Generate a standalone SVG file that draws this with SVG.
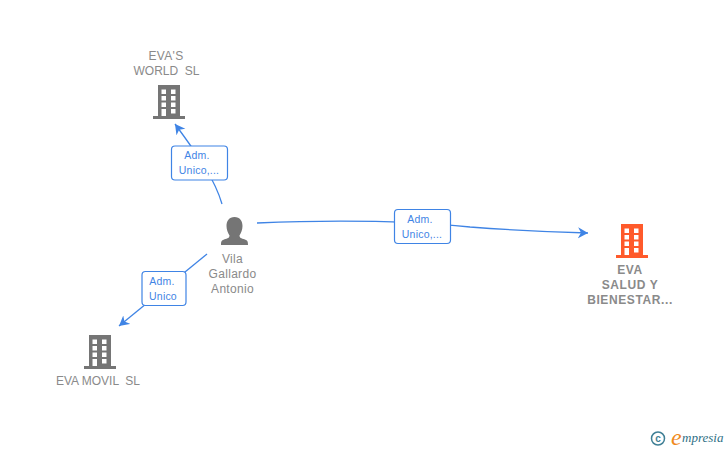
<svg xmlns="http://www.w3.org/2000/svg" width="728" height="450" viewBox="0 0 728 450">
<style>
text{font-family:"Liberation Sans",Arial,sans-serif;white-space:pre}
.n{font-size:12px;fill:#8a8a8a;text-anchor:middle;letter-spacing:.3px}
.t{letter-spacing:0}
.b{font-weight:bold;letter-spacing:.6px}
.l{font-size:10.500px;fill:#3f84e5;text-anchor:middle;letter-spacing:.2px}
.c{fill:none;stroke:#3f84e5;stroke-width:1.300}
.box{fill:#fff;stroke:#3f84e5;stroke-width:1.200}
</style>
<defs>
<marker id="a" markerUnits="userSpaceOnUse" markerWidth="14" markerHeight="14" refX="10" refY="6" orient="auto"><path d="M0 0.500L10 6L0 11.500L3 6Z" fill="#3f84e5"/></marker>
<symbol id="bld" viewBox="0 0 32 34" width="32" height="34" overflow="visible">
<path fill="currentColor" fill-rule="evenodd" d="M5 0H27V31H32V34H0V31H5ZM8.500 4.500V9H13V4.500ZM18 4.500V9H22.500V4.500ZM8.500 11V15.500H13V11ZM18 11V15.500H22.500V11ZM8.500 17.500V22H13V17.500ZM18 17.500V22H22.500V17.500ZM8.500 24V31H13V24ZM18 24V28.500H22.500V24Z"/>
</symbol>
</defs>
<rect width="728" height="450" fill="#fff"/>
<g id="connectors">
<path class="c" d="M222 204C215 180 200 158 175 124" marker-end="url(#a)"/>
<path class="c" d="M207 254L119 326" marker-end="url(#a)"/>
<path class="c" d="M257 223C330 220 400 220 470 227C510 230 550 232 588 233" marker-end="url(#a)"/>
</g>
<g id="label-1"><rect class="box" x="171.500" y="146" width="56" height="34" rx="3.500"/><text class="l" x="197" y="159">Adm.</text><text class="l" x="199" y="174">Unico,...</text></g>
<g id="label-2"><rect class="box" x="142" y="271.500" width="44" height="34" rx="3.500"/><text class="l" x="162" y="285">Adm.</text><text class="l" x="163" y="300">Unico</text></g>
<g id="label-3"><rect class="box" x="394.500" y="209.500" width="56" height="34" rx="3.500"/><text class="l" x="420" y="223">Adm.</text><text class="l" x="422" y="238">Unico,...</text></g>
<g id="node-worlds"><text class="n" x="166" y="60">EVA'S</text><text class="n t" x="166.500" y="75">WORLD  SL</text><use href="#bld" x="153" y="85" color="#757575"/></g>
<g id="node-movil"><use href="#bld" x="84" y="335" color="#757575"/><text class="n t" x="98" y="385">EVA MOVIL  SL</text></g>
<g id="node-person"><path fill="#757575" d="M234.500 217C229 217 226.500 221 226.500 226C226.500 230 228 233 229.500 235.500C229.500 237.500 228 238.500 224 239.500C221.500 240.500 221 241.500 221 245H248C248 241.500 247.500 240.500 245 239.500C241 238.500 239.500 237.500 239.500 235.500C241 233 242.500 230 242.500 226C242.500 221 240 217 234.500 217Z"/><text class="n" x="232.500" y="263">Vila</text><text class="n" x="232.500" y="278">Gallardo</text><text class="n" x="232.500" y="293">Antonio</text></g>
<g id="node-eva"><use href="#bld" x="616" y="224" color="#ff5a2b"/><text class="n b" x="630" y="274">EVA</text><text class="n b" x="630" y="289">SALUD Y</text><text class="n b" x="630" y="304">BIENESTAR...</text></g>
<g id="logo"><circle cx="658" cy="438.500" r="6.500" fill="none" stroke="#3f7f95" stroke-width="1.500"/><text x="658" y="442" font-size="10" font-weight="bold" fill="#3f7f95" text-anchor="middle">c</text><text x="671" y="445" font-size="24" font-style="italic" fill="#f08a1c" style="font-family:'Liberation Serif',serif">e</text><text x="682" y="442" font-size="13" font-style="italic" fill="#2f6f85" style="font-family:'Liberation Serif',serif">mpresia</text></g>
</svg>
